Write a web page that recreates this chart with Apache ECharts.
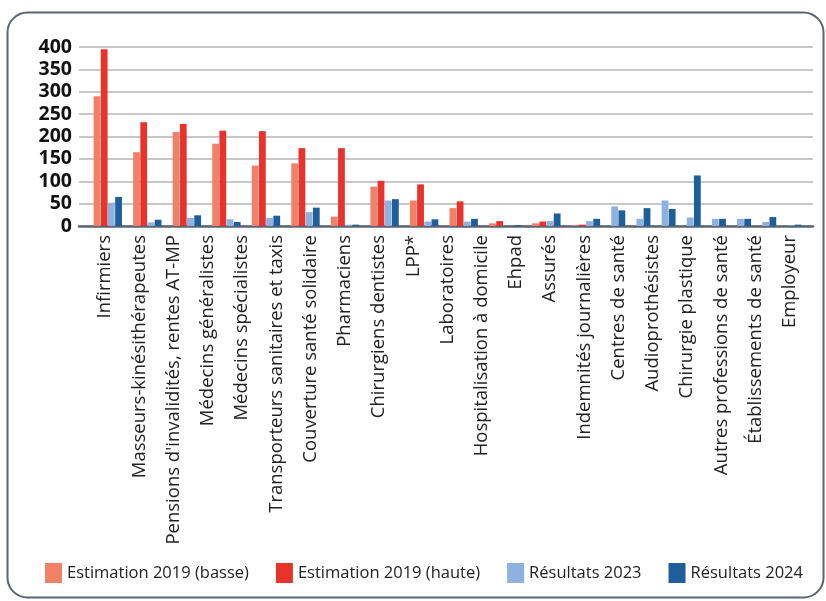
<!DOCTYPE html>
<html>
<head>
<meta charset="utf-8">
<script src="https://cdn.jsdelivr.net/npm/echarts@6/dist/echarts.min.js"></script>
<style>
html,body{margin:0;padding:0;background:#fff;}
#chart{width:826px;height:601px;}
</style>
</head>
<body>
<div id="chart"></div>
<script>
// Axis labels (21, evenly spaced along the axis)
const categories = ["Infirmiers","Masseurs-kinésithérapeutes","Pensions d'invalidités, rentes AT-MP","Médecins généralistes","Médecins spécialistes","Transporteurs sanitaires et taxis","Couverture santé solidaire","Pharmaciens","Chirurgiens dentistes","LPP*","Laboratoires","Hospitalisation à domicile","Ehpad","Assurés","Indemnités journalières","Centres de santé","Audioprothésistes","Chirurgie plastique","Autres professions de santé","Établissements de santé","Employeur"];
// Bar groups as drawn in the picture, left to right (empty values are skipped, groups packed)
const estimBasse = [290,165,210,184,135,140,21,88,57,40,6,null,6,2,null,null,null,null,null,null,null,null];
const estimHaute = [395,232,228,213,212,174,174,101,93,55,11,null,10,3,null,null,null,null,null,null,null,null];
const res2023    = [52,8,18,15,18,31,3,57,10,10,null,null,11,11,44,16,57,19,16,16,9,1];
const res2024    = [65,14,24,9,23,41,3,60,15,16,null,2,28,16,35,40,38,113,16,16,20,3];
const yTicks = [0,50,100,150,200,250,300,350,400];
const seriesNames = ["Estimation 2019 (basse)","Estimation 2019 (haute)","Résultats 2023","Résultats 2024"];
const colors = ["#f08068","#e8332d","#8fb1e0","#1f5f99"];

const datasets = [estimBasse, estimHaute, res2023, res2024];
// packed layout: each bar takes 2 slots, each group adds 3 slots of padding
const BAR_SLOTS = 2, PAD_SLOTS = 3;
const nGroups = estimBasse.length;
let slotCount = 0;
const placements = []; // [seriesIndex, slot, value]
for (let g = 0; g < nGroups; g++) {
  const start = slotCount;
  let j = 0;
  for (let s = 0; s < datasets.length; s++) {
    const v = datasets[s][g];
    if (v !== null && v !== undefined) {
      placements.push([s, start + 1 + BAR_SLOTS * j + 1, v]);
      j++;
    }
  }
  slotCount += BAR_SLOTS * j + PAD_SLOTS;
}
const slotNames = Array.from({length: slotCount}, (_, i) => String(i));
const slotSeries = datasets.map(() => new Array(slotCount).fill('-'));
placements.forEach(([s, k, v]) => { slotSeries[s][k] = v; });

const chart = echarts.init(document.getElementById('chart'), null, {renderer:'canvas'});
const font = "'Open Sans', 'Noto Sans', sans-serif";
chart.setOption({
  animation:false,
  graphic:[{type:'rect',shape:{x:7.5,y:12.5,width:816,height:585,r:20},style:{fill:'none',stroke:'#5b6573',lineWidth:2},silent:true}],
  grid:[
    {left:79,right:13,top:47,bottom:375,containLabel:false},
    {left:88,right:19,top:47,bottom:375,containLabel:false}
  ],
  legend:{
    top:558,left:40,itemWidth:17,itemHeight:20,itemGap:27,icon:'rect',
    textStyle:{fontFamily:font,fontSize:16.5,color:'#222'},
    data:seriesNames
  },
  xAxis:[
    {type:'value',gridIndex:0,min:0,max:1,show:true,splitLine:{show:false},axisTick:{show:false},axisLabel:{show:false},
      axisLine:{show:true,onZero:false,lineStyle:{color:'#5b6573',width:2.5}}},
    {type:'category',gridIndex:1,data:categories,
      axisLine:{show:false},axisTick:{show:false},
      axisLabel:{rotate:90,interval:0,fontFamily:font,fontSize:18.5,color:'#222',margin:9}},
    {type:'category',gridIndex:1,data:slotNames,show:false}
  ],
  yAxis:[
    {type:'value',gridIndex:0,min:0,max:400,interval:50,
      axisLine:{show:false},axisTick:{show:false},
      splitLine:{lineStyle:{color:'#b5b5b5',width:1.5}},
      axisLabel:{fontFamily:font,fontSize:19.5,fontWeight:'bold',color:'#111',margin:7,
        formatter:v=>yTicks.includes(v)?String(v):''}},
    {type:'value',gridIndex:1,min:0,max:400,interval:50,show:false,splitLine:{show:false}}
  ],
  series: slotSeries.map((d,i)=>({
    name:seriesNames[i],type:'bar',xAxisIndex:2,yAxisIndex:1,data:d,barWidth:6.8,barGap:'-100%',
    itemStyle:{color:colors[i]}
  }))
});
</script>
</body>
</html>
